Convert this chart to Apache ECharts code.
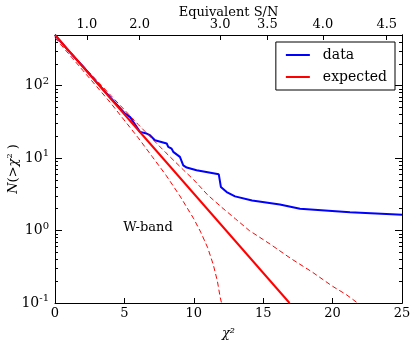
<!DOCTYPE html>
<html>
<head>
<meta charset="utf-8">
<script src="https://cdn.jsdelivr.net/npm/echarts@6/dist/echarts.min.js"></script>
<style>
  html, body { margin: 0; padding: 0; background: #fff; }
  #chart { width: 415px; height: 343px; }
</style>
</head>
<body>
<div id="chart"></div>
<script>
// blue curve: cumulative count above chi^2
var dataX = [0, 1, 2, 3, 4, 5, 5.4, 6.12, 6.6, 6.84, 7.2, 8.05, 8.16, 8.4, 8.52, 9.0, 9.24, 9.49, 10.2, 11.8, 11.95, 12.37, 12.97, 14.2, 16.2, 17.65, 21.25, 25];
var dataY = [500, 300, 185, 112, 68, 42, 37, 23, 21.8, 20.7, 17.6, 15.9, 14.3, 13.5, 12.2, 10.4, 7.95, 7.4, 6.8, 5.97, 4.0, 3.4, 2.96, 2.6, 2.29, 2.0, 1.79, 1.65];

// expected (straight in log space)
var expX = [0, 16.9];
var expY = [500, 0.1];

// dashed bounds around expected
var upX = [0, 2, 4, 6, 8, 9.24, 10, 11, 12, 13, 14, 15.5, 17, 18.5, 20, 21, 21.8];
var upY = [502, 190, 74, 29, 11.8, 6.9, 5.0, 3.1, 2.1, 1.45, 1.0, 0.65, 0.41, 0.27, 0.17, 0.13, 0.1];
var loX = [0, 2, 4, 6, 7, 8, 9, 10, 10.5, 11, 11.4, 11.7, 11.9, 12.0];
var loY = [458, 163, 58, 19, 10.5, 5.8, 3.0, 1.45, 0.95, 0.58, 0.34, 0.2, 0.12, 0.1];

// top axis: equivalent S/N
var snPos = [2.3, 6.1, 11.9, 15.3, 19.3, 23.9];
var snLabels = ['1.0', '2.0', '3.0', '3.5', '4.0', '4.5'];

var yMajor = [0.1, 1, 10, 100];
var yMinor = [0.2, 0.3, 0.4, 0.5, 0.6, 0.7, 0.8, 0.9, 2, 3, 4, 5, 6, 7, 8, 9, 20, 30, 40, 50, 60, 70, 80, 90, 200, 300, 400, 500];

function pairs(xs, ys) {
  return xs.map(function (x, i) { return [x, ys[i]]; });
}

var font = 'DejaVu Serif';
var chart = echarts.init(document.getElementById('chart'));

function logAxis(pos, ticks, len, labels) {
  return {
    type: 'log',
    logBase: 10,
    position: pos,
    min: 0.1,
    max: 500,
    axisLine: { show: true, lineStyle: { color: '#000', width: 1 } },
    axisTick: { show: true, inside: true, length: len, customValues: ticks, lineStyle: { color: '#000' } },
    axisLabel: labels ? {
      show: true,
      customValues: yMajor,
      margin: 6,
      formatter: function (v) {
        return '{b|10}{e|' + Math.round(Math.log10(v)) + '}';
      },
      rich: {
        b: { fontFamily: font, fontSize: 14, color: '#000' },
        e: { fontFamily: font, fontSize: 10, color: '#000', padding: [0, 0, 9, 0] }
      }
    } : { show: false },
    splitLine: { show: false },
    minorTick: { show: false }
  };
}

var yLeft = logAxis('left', yMajor, 7, true);
yLeft.name = '{i|N}{n|(>}{i|χ}{e|2}{n| )}';
yLeft.nameLocation = 'middle';
yLeft.nameGap = 34;
yLeft.nameMoveOverlap = false;
yLeft.nameTextStyle = {
  rich: {
    i: { fontFamily: font, fontStyle: 'italic', fontSize: 13, color: '#000' },
    n: { fontFamily: font, fontSize: 13, color: '#000' },
    e: { fontFamily: font, fontSize: 8, color: '#000', padding: [0, 0, 7, 0] }
  }
};

var option = {
  animation: false,
  grid: { left: 55, right: 13, top: 35, bottom: 40, outerBoundsMode: 'none' },
  legend: {
    data: ['data', 'expected'],
    right: 20,
    top: 42,
    orient: 'vertical',
    icon: 'rect',
    itemWidth: 24,
    itemHeight: 2,
    itemGap: 8,
    padding: [6, 8, 6, 10],
    borderColor: '#000',
    borderWidth: 1,
    backgroundColor: '#fff',
    textStyle: { fontFamily: font, fontSize: 14, color: '#000', padding: [0, 0, 0, 8] }
  },
  xAxis: [{
    type: 'value',
    position: 'bottom',
    min: 0,
    max: 25,
    interval: 5,
    name: 'χ²',
    nameLocation: 'middle',
    nameGap: 24,
    nameMoveOverlap: false,
    nameTextStyle: { fontFamily: font, fontStyle: 'italic', fontSize: 13, color: '#000' },
    axisLine: { lineStyle: { color: '#000', width: 1 } },
    axisTick: { inside: true, length: 5, lineStyle: { color: '#000' } },
    axisLabel: { fontFamily: font, fontSize: 13, color: '#000', margin: 4 },
    splitLine: { show: false }
  }, {
    type: 'value',
    position: 'top',
    min: 0,
    max: 25,
    name: 'Equivalent S/N',
    nameLocation: 'middle',
    nameGap: 16,
    nameMoveOverlap: false,
    nameTextStyle: { fontFamily: font, fontSize: 13, color: '#000' },
    axisLine: { lineStyle: { color: '#000', width: 1 } },
    axisTick: { inside: true, length: 5, customValues: snPos, lineStyle: { color: '#000' } },
    axisLabel: {
      fontFamily: font, fontSize: 13, color: '#000', margin: 4,
      customValues: snPos,
      formatter: function (v) { return snLabels[snPos.indexOf(v)]; }
    },
    splitLine: { show: false }
  }],
  yAxis: [
    yLeft,
    logAxis('left', yMinor, 3, false),
    logAxis('right', yMajor, 7, false),
    logAxis('right', yMinor, 3, false)
  ],
  series: [{
    name: 'lower',
    type: 'line',
    data: pairs(loX, loY),
    showSymbol: false,
    lineStyle: { color: '#ff0000', width: 1, type: [5, 3] },
    z: 3
  }, {
    name: 'upper',
    type: 'line',
    data: pairs(upX, upY),
    showSymbol: false,
    lineStyle: { color: '#ff0000', width: 1, type: [5, 3] },
    z: 3
  }, {
    name: 'data',
    type: 'line',
    data: pairs(dataX, dataY),
    showSymbol: false,
    color: '#0000ff',
    lineStyle: { color: '#0000ff', width: 2 },
    z: 2,
    markPoint: {
      symbol: 'circle',
      symbolSize: 0,
      data: [{ coord: [6.7, 1.1], value: 'W-band' }],
      label: { show: true, position: 'inside', formatter: 'W-band', fontFamily: font, fontSize: 13, color: '#000' }
    }
  }, {
    name: 'expected',
    type: 'line',
    data: pairs(expX, expY),
    showSymbol: false,
    color: '#ff0000',
    lineStyle: { color: '#ff0000', width: 2 },
    z: 4
  }]
};

chart.setOption(option);
</script>
</body>
</html>
